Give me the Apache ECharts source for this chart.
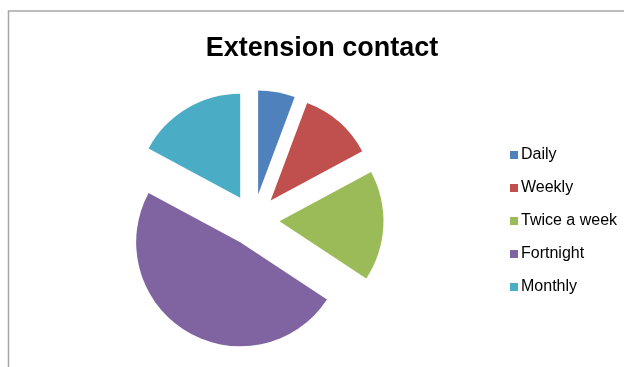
<!DOCTYPE html>
<html>
<head>
<meta charset="utf-8">
<script src="https://cdn.jsdelivr.net/npm/echarts@6/dist/echarts.min.js"></script>
<style>
  html, body { margin: 0; padding: 0; background: #ffffff; }
  #chart { width: 624px; height: 367px; }
</style>
</head>
<body>
<div id="chart"></div>
<script>
// How often farmers are in contact with extension staff (respondent counts)
const categories = ['Daily', 'Weekly', 'Twice a week', 'Fortnight', 'Monthly'];
const counts = [2, 4, 6, 17, 6];
const colors = ['#4F81BD', '#C0504D', '#9BBB59', '#8064A2', '#4BACC6'];

const chart = echarts.init(document.getElementById('chart'), null, { renderer: 'canvas' });

const pieData = categories.map((name, i) => ({
  name: name,
  value: counts[i],
  selected: true,
  itemStyle: { color: colors[i] },
  select: { itemStyle: { color: colors[i] } }
}));

chart.setOption({
  animation: false,
  backgroundColor: '#ffffff',
  color: colors,
  title: {
    text: 'Extension contact',
    left: 317,
    textAlign: 'center',
    top: 30,
    textStyle: {
      fontFamily: 'Liberation Sans',
      fontWeight: 'bold',
      fontSize: 27,
      color: '#000000'
    }
  },
  legend: {
    orient: 'vertical',
    left: 505,
    top: 142,
    itemWidth: 8,
    itemHeight: 8,
    itemGap: 17,
    icon: 'rect',
    selectedMode: false,
    data: categories,
    textStyle: {
      fontFamily: 'Liberation Sans',
      fontSize: 16,
      lineHeight: 16,
      color: '#000000',
      padding: [0, 0, 0, -2]
    }
  },
  graphic: [{
    type: 'rect',
    silent: true,
    shape: { x: 8.5, y: 11, width: 800, height: 500 },
    style: { fill: 'none', stroke: '#A6A6A6', lineWidth: 1.5 }
  }],
  series: [{
    type: 'pie',
    center: [253.5, 220],
    radius: 104,
    startAngle: 90,
    clockwise: true,
    selectedMode: 'multiple',
    selectedOffset: 26,
    avoidLabelOverlap: false,
    label: { show: false },
    labelLine: { show: false },
    emphasis: { disabled: true },
    itemStyle: { borderWidth: 0 },
    data: pieData
  }]
});
</script>
</body>
</html>
